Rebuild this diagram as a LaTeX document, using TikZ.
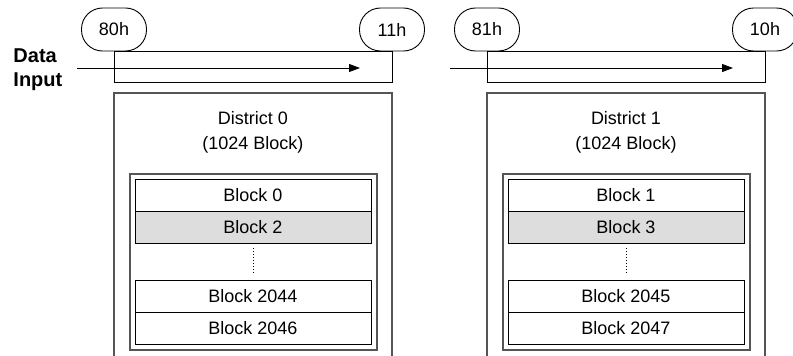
\documentclass[tikz,border=0pt]{standalone}
\usepackage{fontspec}
\setmainfont{Liberation Sans}
\usetikzlibrary{arrows.meta}
\definecolor{blkgray}{HTML}{DDDDDD}
\definecolor{framegray}{HTML}{555555}
\tikzset{
  regnode/.style={draw, rounded corners=21pt, minimum width=65pt, minimum height=43pt, inner sep=0pt, font=\fontsize{18}{20}\selectfont},
  blknode/.style={draw, minimum width=236pt, minimum height=32pt, inner sep=0pt, font=\fontsize{18}{20}\selectfont},
  distlbl/.style={align=center, font=\fontsize{18}{25}\selectfont},
  frameline/.style={draw=framegray, line width=1.4pt},
  flowline/.style={-{Triangle[length=11pt,width=8pt]}, line width=0.9pt}
}
\begin{document}
\begin{tikzpicture}[x=1pt,y=-1pt,line width=0.9pt]
\useasboundingbox (0,0) rectangle (793,356);
\node[anchor=west, align=left, inner sep=0pt, font=\bfseries\fontsize{20}{24}\selectfont] (datain) at (13,70) {Data\\Input};
% district 0
\node[regnode] (r80) at (114,29.5) {80h};
\node[regnode] (r11) at (392,29.5) {11h};
\draw (r80.south) -- ++(0,31) -| (r11.south) -- (r80.south);
\coordinate (in0) at (77,68);
\coordinate (out0) at (360,68);
\draw[flowline] (in0) -- (out0);
\draw[frameline] (114,360) -- (114,93) -- (392,93) -- (392,360);
\node[distlbl] (dist0) at (253,132.5) {District 0\\(1024 Block)};
\draw[frameline, line width=1.2pt] (130,174) rectangle (377,350);
\node[blknode] (b0) at (253,195) {Block 0};
\node[blknode, fill=blkgray] (b2) at (253,227) {Block 2};
\node[blknode] (b2044) at (253,296) {Block 2044};
\node[blknode] (b2046) at (253,328) {Block 2046};
\draw[dotted, shorten <=5pt, shorten >=6pt] (b2) -- (b2044);
% district 1
\begin{scope}[xshift=373pt]
\node[regnode] (r81) at (114,29.5) {81h};
\node[regnode] (r10) at (392,29.5) {10h};
\draw (r81.south) -- ++(0,31) -| (r10.south) -- (r81.south);
\coordinate (in1) at (77,68);
\coordinate (out1) at (360,68);
\draw[flowline] (in1) -- (out1);
\draw[frameline] (114,360) -- (114,93) -- (392,93) -- (392,360);
\node[distlbl] (dist1) at (253,132.5) {District 1\\(1024 Block)};
\draw[frameline, line width=1.2pt] (130,174) rectangle (377,350);
\node[blknode] (b1) at (253,195) {Block 1};
\node[blknode, fill=blkgray] (b3) at (253,227) {Block 3};
\node[blknode] (b2045) at (253,296) {Block 2045};
\node[blknode] (b2047) at (253,328) {Block 2047};
\draw[dotted, shorten <=5pt, shorten >=6pt] (b3) -- (b2045);
\end{scope}
\end{tikzpicture}
\end{document}
